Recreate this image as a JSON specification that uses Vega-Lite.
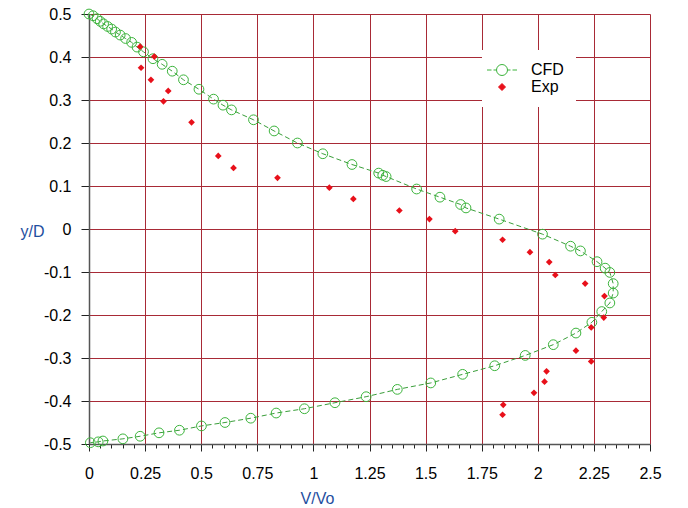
{
  "$schema": "https://vega.github.io/schema/vega-lite/v6.json",
  "width": 561,
  "height": 430,
  "autosize": "none",
  "padding": {"left": 89, "top": 14, "right": 38, "bottom": 64},
  "background": "white",
  "config": {
    "view": {"stroke": null},
    "font": "Liberation Sans",
    "legend": {
      "orient": "none",
      "legendX": 393,
      "legendY": 36,
      "fillColor": "white",
      "padding": 12,
      "labelFont": "Liberation Sans",
      "labelFontSize": 16,
      "labelColor": "#000000",
      "symbolSize": 100,
      "symbolStrokeWidth": 1,
      "symbolOpacity": 1,
      "labelOffset": 21,
      "rowPadding": 1
    }
  },
  "datasets": {
    "cfd": [
      {"i": 1, "v": 0.0, "y": 0.5},
      {"i": 2, "v": 0.018, "y": 0.496},
      {"i": 3, "v": 0.036, "y": 0.489},
      {"i": 4, "v": 0.05, "y": 0.483},
      {"i": 5, "v": 0.065, "y": 0.477},
      {"i": 6, "v": 0.083, "y": 0.471},
      {"i": 7, "v": 0.101, "y": 0.465},
      {"i": 8, "v": 0.118, "y": 0.458},
      {"i": 9, "v": 0.139, "y": 0.451},
      {"i": 10, "v": 0.163, "y": 0.443},
      {"i": 11, "v": 0.19, "y": 0.434},
      {"i": 12, "v": 0.214, "y": 0.423},
      {"i": 13, "v": 0.243, "y": 0.412},
      {"i": 14, "v": 0.285, "y": 0.396},
      {"i": 15, "v": 0.326, "y": 0.383},
      {"i": 16, "v": 0.371, "y": 0.367},
      {"i": 17, "v": 0.421, "y": 0.347},
      {"i": 18, "v": 0.49, "y": 0.325},
      {"i": 19, "v": 0.555, "y": 0.302},
      {"i": 20, "v": 0.597, "y": 0.288},
      {"i": 21, "v": 0.635, "y": 0.277},
      {"i": 22, "v": 0.733, "y": 0.254},
      {"i": 23, "v": 0.825, "y": 0.228},
      {"i": 24, "v": 0.929, "y": 0.2},
      {"i": 25, "v": 1.042, "y": 0.175},
      {"i": 26, "v": 1.172, "y": 0.15},
      {"i": 27, "v": 1.291, "y": 0.13},
      {"i": 28, "v": 1.309, "y": 0.125},
      {"i": 29, "v": 1.324, "y": 0.122},
      {"i": 30, "v": 1.46, "y": 0.093},
      {"i": 31, "v": 1.564, "y": 0.074},
      {"i": 32, "v": 1.656, "y": 0.057},
      {"i": 33, "v": 1.68, "y": 0.049},
      {"i": 34, "v": 1.828, "y": 0.023},
      {"i": 35, "v": 2.021, "y": -0.012},
      {"i": 36, "v": 2.146, "y": -0.04},
      {"i": 37, "v": 2.19, "y": -0.051},
      {"i": 38, "v": 2.264, "y": -0.076},
      {"i": 39, "v": 2.3, "y": -0.091},
      {"i": 40, "v": 2.321, "y": -0.101},
      {"i": 41, "v": 2.336, "y": -0.127},
      {"i": 42, "v": 2.336, "y": -0.149},
      {"i": 43, "v": 2.321, "y": -0.172},
      {"i": 44, "v": 2.285, "y": -0.192},
      {"i": 45, "v": 2.241, "y": -0.217},
      {"i": 46, "v": 2.17, "y": -0.242},
      {"i": 47, "v": 2.069, "y": -0.269},
      {"i": 48, "v": 1.944, "y": -0.294},
      {"i": 49, "v": 1.808, "y": -0.318},
      {"i": 50, "v": 1.665, "y": -0.338},
      {"i": 51, "v": 1.523, "y": -0.358},
      {"i": 52, "v": 1.374, "y": -0.373},
      {"i": 53, "v": 1.235, "y": -0.39},
      {"i": 54, "v": 1.096, "y": -0.404},
      {"i": 55, "v": 0.96, "y": -0.418},
      {"i": 56, "v": 0.834, "y": -0.428},
      {"i": 57, "v": 0.721, "y": -0.44},
      {"i": 58, "v": 0.606, "y": -0.45},
      {"i": 59, "v": 0.501, "y": -0.458},
      {"i": 60, "v": 0.403, "y": -0.468},
      {"i": 61, "v": 0.312, "y": -0.474},
      {"i": 62, "v": 0.228, "y": -0.482},
      {"i": 63, "v": 0.151, "y": -0.488},
      {"i": 64, "v": 0.062, "y": -0.493},
      {"i": 65, "v": 0.041, "y": -0.495},
      {"i": 66, "v": 0.006, "y": -0.497}
    ],
    "exp": [
      {"v": 0.228, "y": 0.424},
      {"v": 0.291, "y": 0.401},
      {"v": 0.232, "y": 0.375},
      {"v": 0.276, "y": 0.347},
      {"v": 0.332, "y": 0.297},
      {"v": 0.353, "y": 0.321},
      {"v": 0.457, "y": 0.248},
      {"v": 0.576, "y": 0.17},
      {"v": 0.644, "y": 0.142},
      {"v": 0.84, "y": 0.119},
      {"v": 1.071, "y": 0.096},
      {"v": 1.178, "y": 0.07},
      {"v": 1.383, "y": 0.043},
      {"v": 1.517, "y": 0.023},
      {"v": 1.632, "y": -0.005},
      {"v": 1.843, "y": -0.025},
      {"v": 1.965, "y": -0.054},
      {"v": 2.051, "y": -0.077},
      {"v": 2.078, "y": -0.107},
      {"v": 2.211, "y": -0.127},
      {"v": 2.297, "y": -0.156},
      {"v": 2.294, "y": -0.206},
      {"v": 2.238, "y": -0.229},
      {"v": 2.17, "y": -0.283},
      {"v": 2.238, "y": -0.308},
      {"v": 2.039, "y": -0.331},
      {"v": 2.03, "y": -0.355},
      {"v": 1.983, "y": -0.381},
      {"v": 1.846, "y": -0.409},
      {"v": 1.843, "y": -0.432}
    ],
    "leg": [
      {"s": "CFD", "v": -1, "y": 0},
      {"s": "Exp", "v": -1, "y": 0}
    ]
  },
  "encoding": {
    "x": {
      "field": "v", "type": "quantitative",
      "scale": {"domain": [0, 2.5], "nice": false, "zero": false},
      "axis": {
        "values": [0, 0.05, 0.1, 0.15, 0.2, 0.25, 0.3, 0.35, 0.4, 0.45, 0.5, 0.55, 0.6, 0.65, 0.7, 0.75, 0.8, 0.85, 0.9, 0.95, 1, 1.05, 1.1, 1.15, 1.2, 1.25, 1.3, 1.35, 1.4, 1.45, 1.5, 1.55, 1.6, 1.65, 1.7, 1.75, 1.8, 1.85, 1.9, 1.95, 2, 2.05, 2.1, 2.15, 2.2, 2.25, 2.3, 2.35, 2.4, 2.45, 2.5],
        "labelExpr": "abs(datum.value*4 - round(datum.value*4)) < 0.001 ? '' + datum.value : ''",
        "title": "V/Vo",
        "grid": true, "gridColor": "#a82a36", "gridWidth": 1,
        "gridOpacity": {"condition": {"test": "abs(datum.value*4 - round(datum.value*4)) < 0.001", "value": 1}, "value": 0},
        "domainColor": "#555555", "domainWidth": 1.5,
        "tickColor": "#222222", "tickSize": 7, "tickWidth": 1,
        "tickDash": {"condition": {"test": "abs(datum.value*4 - round(datum.value*4)) < 0.001", "value": [7, 0]}, "value": [4, 20]},
        "labelFont": "Liberation Sans", "labelFontSize": 16, "labelColor": "#000000",
        "labelPadding": 14, "labelFlush": false, "labelOverlap": false,
        "titleFont": "Liberation Sans", "titleFontSize": 16, "titleFontWeight": "normal",
        "titleColor": "#1f4f9f", "titleX": 228, "titleY": 54,
        "titleAlign": "center", "titleBaseline": "middle"
      }
    },
    "y": {
      "field": "y", "type": "quantitative",
      "scale": {"domain": [-0.5, 0.5], "nice": false, "zero": false},
      "axis": {
        "values": [-0.5, -0.4, -0.3, -0.2, -0.1, 0, 0.1, 0.2, 0.3, 0.4, 0.5],
        "labelExpr": "'' + datum.value",
        "title": "y/D",
        "grid": true, "gridColor": "#a82a36", "gridWidth": 1, "gridOpacity": 1,
        "domainColor": "#555555", "domainWidth": 1.5,
        "tickColor": "#222222", "tickSize": 8, "tickWidth": 1,
        "labelFont": "Liberation Sans", "labelFontSize": 16, "labelColor": "#000000",
        "labelPadding": 10, "labelFlush": false, "labelOverlap": false,
        "titleFont": "Liberation Sans", "titleFontSize": 16, "titleFontWeight": "normal",
        "titleColor": "#1f4f9f", "titleAngle": 0, "titleX": -57, "titleY": 217,
        "titleAlign": "center", "titleBaseline": "middle"
      }
    }
  },
  "layer": [
    {
      "data": {"name": "cfd"},
      "mark": {"type": "line", "stroke": "#3a9e3a", "strokeWidth": 1, "strokeDash": [5, 3]},
      "encoding": {
        "order": {"field": "i", "type": "quantitative"}
      }
    },
    {
      "data": {"name": "cfd"},
      "mark": {"type": "point", "shape": "circle", "filled": false, "stroke": "#3cb43c", "strokeWidth": 1, "size": 95, "opacity": 1}
    },
    {
      "data": {"name": "exp"},
      "mark": {"type": "point", "shape": "diamond", "filled": true, "color": "#e8101a", "size": 45, "opacity": 1}
    },
    {
      "data": {"name": "leg"},
      "mark": {"type": "point", "clip": true, "filled": true, "strokeWidth": 1},
      "encoding": {
        "shape": {
          "field": "s", "type": "nominal",
          "scale": {"domain": ["CFD", "Exp"], "range": ["M-3,0H-2.1M-1.7,0H-1.1M1.1,0A1.1,1.1 0 1,1 -1.1,0A1.1,1.1 0 1,1 1.1,0M1.1,0H1.7M2.1,0H3", "M0,-0.7L0.7,0L0,0.7L-0.7,0Z"]},
          "legend": {"title": null}
        },
        "stroke": {
          "field": "s", "type": "nominal",
          "scale": {"domain": ["CFD", "Exp"], "range": ["#3cb43c", "#e8101a"]},
          "legend": {"title": null}
        },
        "fill": {
          "field": "s", "type": "nominal",
          "scale": {"domain": ["CFD", "Exp"], "range": ["#ffffff", "#e8101a"]},
          "legend": {"title": null}
        }
      }
    }
  ]
}
